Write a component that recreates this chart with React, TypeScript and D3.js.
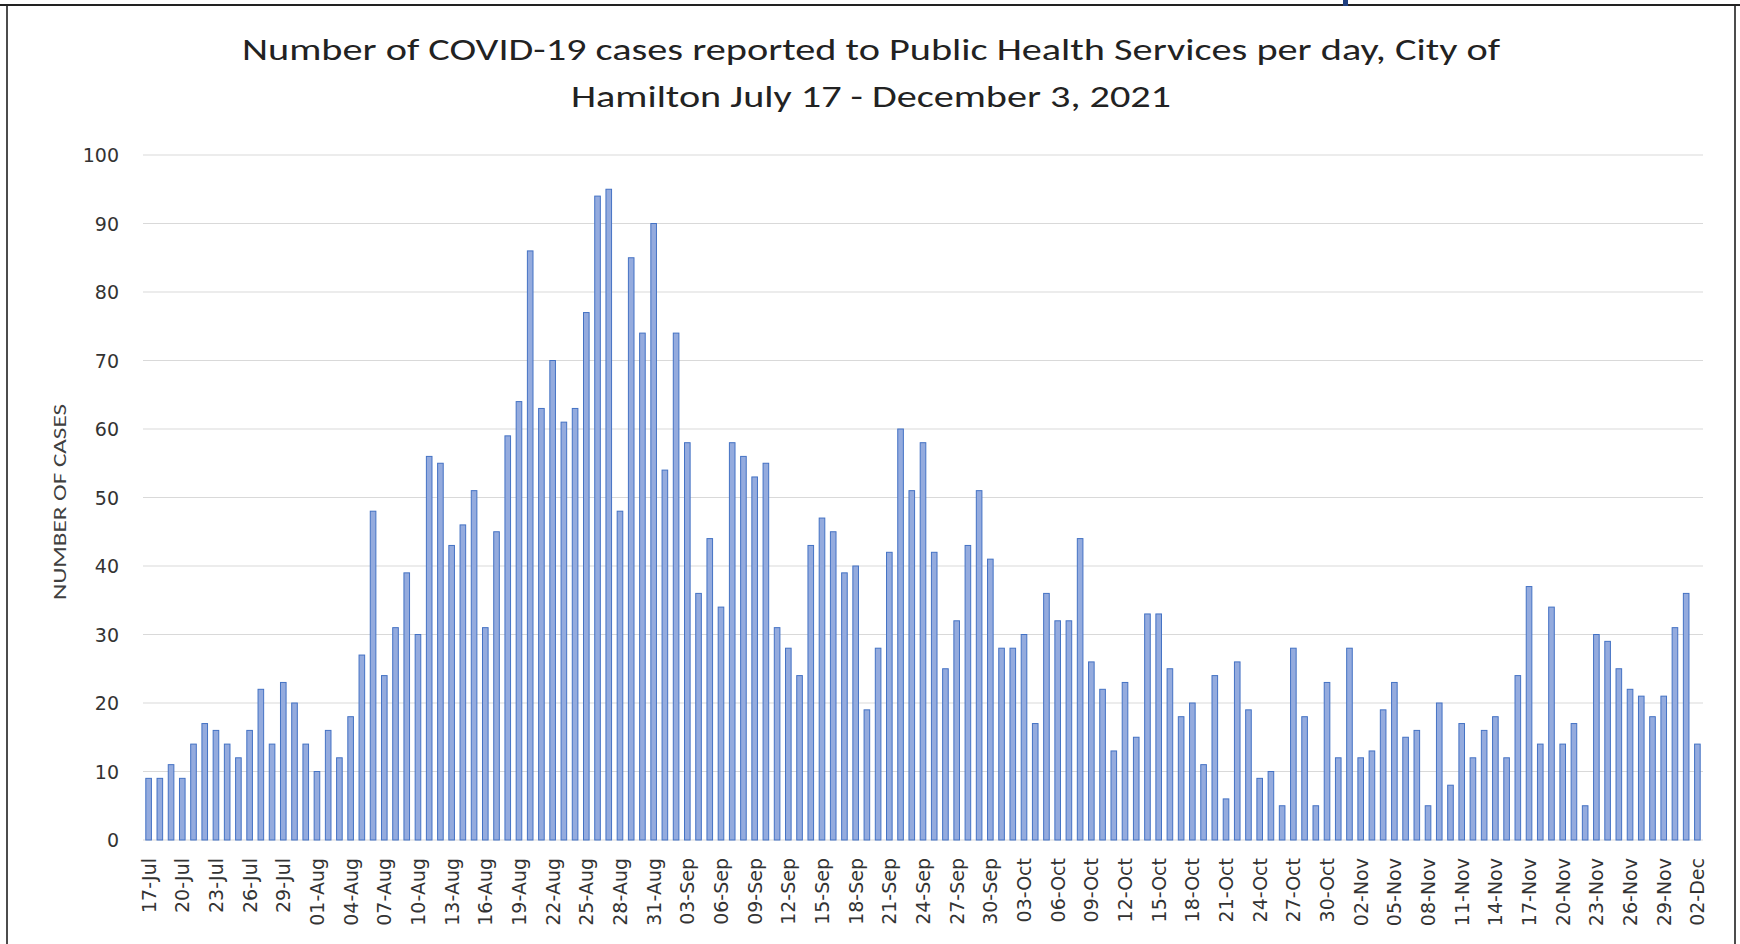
import React from "react";
import * as d3 from "d3";

const titleLines = [
  "Number of COVID-19 cases reported to Public Health Services per day, City of",
  "Hamilton July 17 - December 3, 2021",
];
const yAxisTitle = "NUMBER OF CASES";
const startDate = new Date(2021, 6, 17);

const julValues = [9, 9, 11, 9, 14, 17, 16, 14, 12, 16, 22, 14, 23, 20, 14];
const augValues = [10, 16, 12, 18, 27, 48, 24, 31, 39, 30, 56, 55, 43, 46, 51, 31, 45, 59, 64, 86, 63, 70, 61, 63, 77, 94, 95, 48, 85, 74, 90];
const sepValues = [54, 74, 58, 36, 44, 34, 58, 56, 53, 55, 31, 28, 24, 43, 47, 45, 39, 40, 19, 28, 42, 60, 51, 58, 42, 25, 32, 43, 51, 41];
const octValues = [28, 28, 30, 17, 36, 32, 32, 44, 26, 22, 13, 23, 15, 33, 33, 25, 18, 20, 11, 24, 6, 26, 19, 9, 10, 5, 28, 18, 5, 23, 12];
const novValues = [28, 12, 13, 19, 23, 15, 16, 5, 20, 8, 17, 12, 16, 18, 12, 24, 37, 14, 34, 14, 17, 5, 30, 29, 25, 22, 21, 18, 21, 31];
const decValues = [36, 14];

const yTicks = [0, 10, 20, 30, 40, 50, 60, 70, 80, 90, 100];
const tickEvery = 3;

const values = [...julValues, ...augValues, ...sepValues, ...octValues, ...novValues, ...decValues];
const fmt = d3.timeFormat("%d-%b");
const categories = values.map((_, i) => fmt(d3.timeDay.offset(startDate, i)));

const W = 1740;
const H = 944;
const plot = { left: 143, right: 1703, top: 155, bottom: 840 };

export default function App() {
  const x = d3
    .scaleBand<string>()
    .domain(categories)
    .range([plot.left, plot.right])
    .paddingInner(0.5)
    .paddingOuter(0.25);
  const y = d3.scaleLinear().domain([0, 100]).range([plot.bottom, plot.top]);

  return (
    <svg
      width={W}
      height={H}
      style={{ position: "absolute", left: 0, top: 0, background: "#fff" }}
    >
      <rect x={0} y={0} width={W} height={H} fill="#fff" />
      {/* frame */}
      <line x1={7} y1={5} x2={7} y2={H} stroke="#111" strokeWidth={1.5} />
      <line x1={1735} y1={5} x2={1735} y2={H} stroke="#111" strokeWidth={1.5} />
      <line x1={0} y1={5} x2={W} y2={5} stroke="#222" strokeWidth={2} />
      <rect x={1343} y={0} width={5} height={6} fill="#1F3F7F" />

      {/* title */}
      {titleLines.map((t, i) => (
        <text
          key={i}
          x={871}
          y={i === 0 ? 60 : 107}
          textAnchor="middle"
          fontFamily="Carlito, 'Open Sans', sans-serif"
          fontSize={31}
          fill="#222"
          textLength={i === 0 ? 1258 : 600}
          lengthAdjust="spacingAndGlyphs"
        >
          {t}
        </text>
      ))}

      {/* gridlines */}
      {yTicks.map((t) => (
        <g key={t}>
          <line
            x1={plot.left}
            x2={plot.right}
            y1={y(t)}
            y2={y(t)}
            stroke="#D9D9D9"
            strokeWidth={1.2}
          />
          <text
            x={119}
            y={y(t)}
            textAnchor="end"
            dominantBaseline="central"
            fontFamily="'DejaVu Sans', sans-serif"
            fontSize={19}
            fill="#333"
          >
            {t}
          </text>
        </g>
      ))}

      {/* bars */}
      {values.map((v, i) => (
        <rect
          key={i}
          x={x(categories[i])!}
          y={y(v)}
          width={x.bandwidth()}
          height={y(0) - y(v)}
          fill="#94ABDE"
          stroke="#4472C4"
          strokeWidth={1}
        />
      ))}

      {/* x labels */}
      {categories.map((c, i) =>
        i % tickEvery === 0 ? (
          <text
            key={c}
            transform={`translate(${x(c)! + x.bandwidth() / 2},858) rotate(-90)`}
            textAnchor="end"
            dominantBaseline="central"
            fontFamily="'DejaVu Sans', sans-serif"
            fontSize={19}
            fill="#333"
          >
            {c}
          </text>
        ) : null
      )}

      {/* y axis title */}
      <text
        transform="translate(59,502) rotate(-90)"
        textAnchor="middle"
        dominantBaseline="central"
        fontFamily="Carlito, 'Open Sans', sans-serif"
        fontSize={19}
        fill="#404040"
        textLength={196}
        lengthAdjust="spacingAndGlyphs"
      >
        {yAxisTitle}
      </text>
    </svg>
  );
}
